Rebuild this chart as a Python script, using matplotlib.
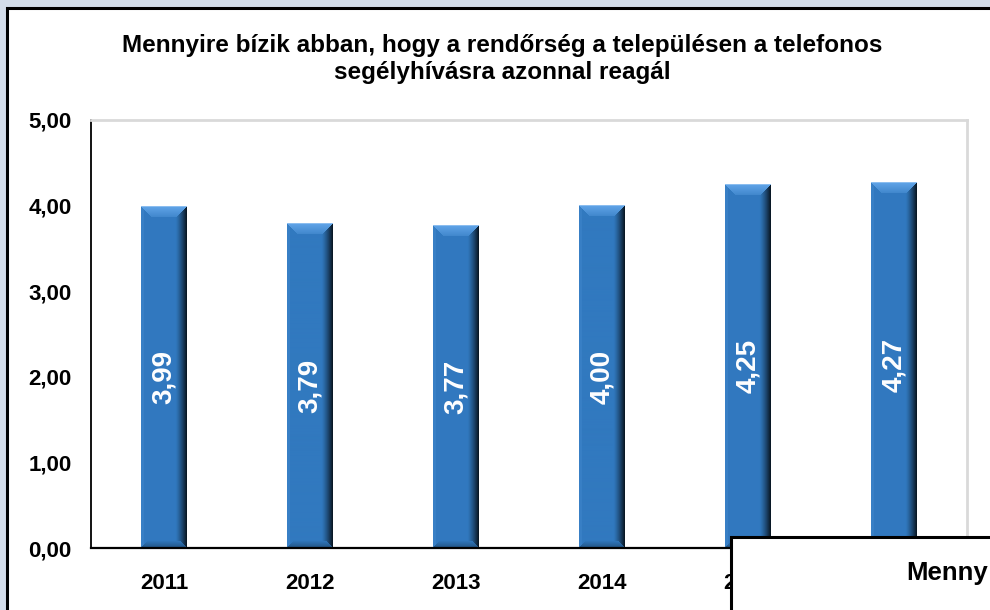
import numpy as np
import matplotlib
matplotlib.use('Agg')
import matplotlib.pyplot as plt
from matplotlib.patches import Rectangle

plt.rcParams['font.family'] = ['Liberation Sans', 'DejaVu Sans']

years = ['2011', '2012', '2013', '2014', '2015', '2016']
values = [3.99, 3.79, 3.77, 4.00, 4.25, 4.27]
value_labels = ['3,99', '3,79', '3,77', '4,00', '4,25', '4,27']
yticks = [0, 1, 2, 3, 4, 5]
ytick_labels = ['0,00', '1,00', '2,00', '3,00', '4,00', '5,00']
title = ('Mennyire bízik abban, hogy a rendőrség a településen a telefonos\n'
         'segélyhívásra azonnal reagál')
overlap_text = 'Menny'

W, H = 990, 610
fig = plt.figure(figsize=(W / 100, H / 100), dpi=100, facecolor='#D3DDEA')

# white panel with black border
fig.add_artist(Rectangle((6.5 / W, -0.05), 1.2, (H - 8) / H + 0.05,
                         transform=fig.transFigure, facecolor='white',
                         edgecolor='black', lw=2.2, zorder=-1))

ax = fig.add_axes([91 / W, 62 / H, 876 / W, 428 / H])
ax.set_facecolor('white')
x = np.arange(len(years))
bars = ax.bar(x, values, width=0.315, color='#3179BF', zorder=2)
ax.set_xlim(-0.5, len(years) - 0.5)
ax.set_ylim(0, 5)

for s in ['top', 'right']:
    ax.spines[s].set_color('#D9D9D9')
    ax.spines[s].set_linewidth(2)
ax.spines['left'].set_color('black')
ax.spines['left'].set_linewidth(1.3)
ax.spines['bottom'].set_color('black')
ax.spines['bottom'].set_linewidth(1.6)
ax.spines['bottom'].set_zorder(5)

ax.set_yticks(yticks, ytick_labels)
ax.set_xticks(x, years)
ax.tick_params(axis='y', length=0, pad=14, labelsize=16)
ax.tick_params(axis='x', length=0, pad=18, labelsize=16)
for lab in ax.get_xticklabels() + ax.get_yticklabels():
    lab.set_fontweight('bold')

base = np.array([0x31, 0x79, 0xBF]) / 255.0
light = np.array([0x60, 0xA4, 0xE8]) / 255.0
for p, lab, v in zip(bars.patches, value_labels, values):
    x0, y0 = p.get_x(), p.get_y()
    x1, y1 = x0 + p.get_width(), y0 + p.get_height()
    (px0, py0), (px1, py1) = ax.transData.transform([(x0, y0), (x1, y1)])
    w = max(int(round(px1 - px0)), 2)
    h = max(int(round(py1 - py0)), 2)
    jj, ii = np.meshgrid(np.arange(w), np.arange(h))
    dl = jj.astype(float)
    dr = (w - 1 - jj).astype(float)
    dt = ii.astype(float)
    db = (h - 1 - ii).astype(float)
    img = np.ones((h, w, 3)) * base
    b = 11.0
    br = 11.0
    # right dark bevel
    m = (dr < br) & (dr <= dt)
    t = (1 - dr / br)[m]
    img[m] = base * (1 - 0.8 * t[:, None] ** 1.3)
    # left light edge
    m = (dl < 3) & (dl <= dt)
    img[m] = base * 0.85 + light * 0.15
    # bottom bevel
    m = (db < 7) & (db <= dl) & (db <= dr)
    tb = (1 - db / 7)[m]
    img[m] = base * (1 - 0.3 * tb[:, None])
    # top bevel (lighter)
    m = (dt < b) & (dt <= dl) & (dt <= dr)
    tt = (dt / b)[m][:, None]
    img[m] = light * (1 - 0.7 * tt) + base * 0.7 * tt
    # top edge highlight
    img[0, :] = np.array([0x8C, 0xBE, 0xF0]) / 255.0
    img = np.clip(img, 0, 1)
    ax.imshow(img, extent=(x0, x1, y0, y1), aspect='auto', origin='upper',
              interpolation='bilinear', zorder=3)
    ax.text(p.get_x() + p.get_width() / 2, v / 2, lab, rotation=90,
            ha='center', va='center', color='white', fontsize=20,
            fontweight='bold', zorder=4)

ax.set_xlim(-0.5, len(years) - 0.5)
ax.set_ylim(0, 5)

fig.text(502 / W, 1 - 59 / H, title, ha='center', va='center', fontsize=17.5,
         fontweight='bold', linespacing=1.2)

# overlapping second panel
fig.add_artist(Rectangle((731 / W, -0.05), 0.5, (H - 537) / H + 0.05,
                         transform=fig.transFigure, facecolor='white',
                         edgecolor='black', lw=2.2, zorder=10))
fig.text(906 / W, 1 - 573 / H, overlap_text, ha='left', va='center',
         fontsize=18.5, fontweight='bold', zorder=11)

fig.savefig('out.png', dpi=100, facecolor=fig.get_facecolor())
